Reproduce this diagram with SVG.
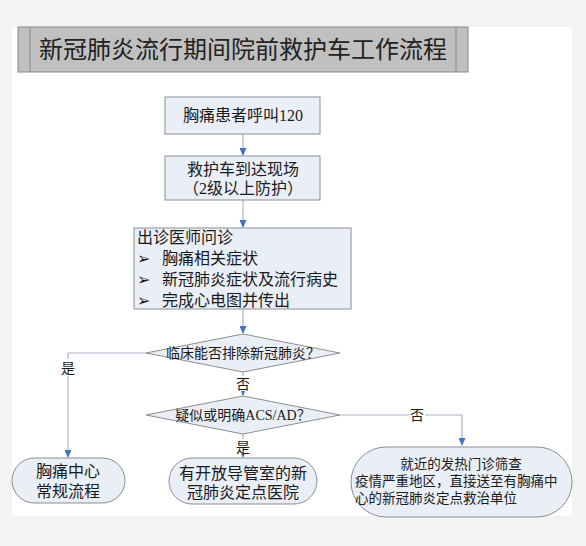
<svg xmlns="http://www.w3.org/2000/svg" width="586" height="546" viewBox="0 0 586 546">
<style>
.bg{fill:#f3f3f3}
.box{fill:#e9eef7;stroke:#8e8e8e;stroke-width:1}
.t{font-family:"Liberation Serif","Noto Sans CJK SC",serif;font-size:16px;fill:#1a1a1a}
.s{font-size:14px}
.r{font-size:13.5px}
.c{text-anchor:middle}
.ln{fill:none;stroke:#a8b6c8;stroke-width:1.2}
.lb{font-family:"Liberation Serif","Noto Sans CJK SC",serif;font-size:14px;fill:#1a1a1a;text-anchor:middle}
</style>
<defs>
<marker id="ah" markerWidth="8" markerHeight="7" refX="7" refY="3.5" orient="auto" markerUnits="userSpaceOnUse">
<path d="M0,0 L8,3.5 L0,7 Z" fill="#4472c4"/>
</marker>
</defs>
<rect class="bg" x="0" y="0" width="586" height="546"/>
<rect x="12" y="27" width="560" height="489" fill="#ffffff"/>

<g id="title">
<rect x="18" y="27" width="450" height="45" fill="#c0c0c0" stroke="#888888"/>
<line x1="30" y1="27" x2="30" y2="72" stroke="#888888"/>
<line x1="456" y1="27" x2="456" y2="72" stroke="#888888"/>
<text x="243" y="58" class="t c" style="font-size:24px;fill:#222">新冠肺炎流行期间院前救护车工作流程</text>
</g>

<g id="connectors">
<path class="ln" d="M243,134 V155" marker-end="url(#ah)"/>
<path class="ln" d="M243,200 V227" marker-end="url(#ah)"/>
<path class="ln" d="M243,309 V333" marker-end="url(#ah)"/>
<path class="ln" d="M243,372 V395" marker-end="url(#ah)"/>
<path class="ln" d="M146,353 H68 V457" marker-end="url(#ah)"/>
<path class="ln" d="M243,434 V457" marker-end="url(#ah)"/>
<path class="ln" d="M340,415 H462 V445" marker-end="url(#ah)"/>
<rect x="60" y="359" width="16" height="17" fill="#fff"/>
<text x="68" y="373" class="lb">是</text>
<rect x="235" y="376" width="16" height="15" fill="#fff"/>
<text x="243" y="389" class="lb">否</text>
<rect x="235" y="439" width="16" height="15" fill="#fff"/>
<text x="243" y="452" class="lb">是</text>
<rect x="409" y="407" width="16" height="16" fill="#fff"/>
<text x="417" y="420" class="lb">否</text>
</g>

<g id="n1">
<rect class="box" x="165" y="97" width="155" height="37"/>
<text x="243" y="121" class="t c">胸痛患者呼叫120</text>
</g>

<g id="n2">
<rect class="box" x="165" y="156" width="155" height="44"/>
<text x="243" y="175" class="t c">救护车到达现场</text>
<text x="243" y="194" class="t c">（2级以上防护）</text>
</g>

<g id="n3">
<rect class="box" x="134" y="228" width="217" height="81"/>
<text x="137" y="243" class="t">出诊医师问诊</text>
<text x="137" y="264" class="t">➢</text>
<text x="162" y="264" class="t">胸痛相关症状</text>
<text x="137" y="285" class="t">➢</text>
<text x="162" y="285" class="t">新冠肺炎症状及流行病史</text>
<text x="137" y="306" class="t">➢</text>
<text x="162" y="306" class="t">完成心电图并传出</text>
</g>

<g id="d1">
<polygon class="box" points="146,353 243,334 340,353 243,372"/>
<text x="243" y="358" class="t c s">临床能否排除新冠肺炎？</text>
</g>

<g id="d2">
<polygon class="box" points="146,415 243,396 340,415 243,434"/>
<text x="243" y="420" class="t c s">疑似或明确ACS/AD？</text>
</g>

<g id="o1">
<rect class="box" x="12" y="458" width="113" height="45" rx="22.5"/>
<text x="68" y="477" class="t c">胸痛中心</text>
<text x="68" y="497" class="t c">常规流程</text>
</g>

<g id="o2">
<rect class="box" x="169" y="458" width="148" height="46" rx="23"/>
<text x="243" y="479" class="t c">有开放导管室的新</text>
<text x="243" y="498" class="t c">冠肺炎定点医院</text>
</g>

<g id="o3">
<rect class="box" x="351" y="447" width="221" height="70" rx="35"/>
<text x="461" y="469" class="t c r">就近的发热门诊筛查</text>
<text x="355" y="486" class="t r">疫情严重地区，直接送至有胸痛中</text>
<text x="355" y="503" class="t r">心的新冠肺炎定点救治单位</text>
</g>
</svg>
